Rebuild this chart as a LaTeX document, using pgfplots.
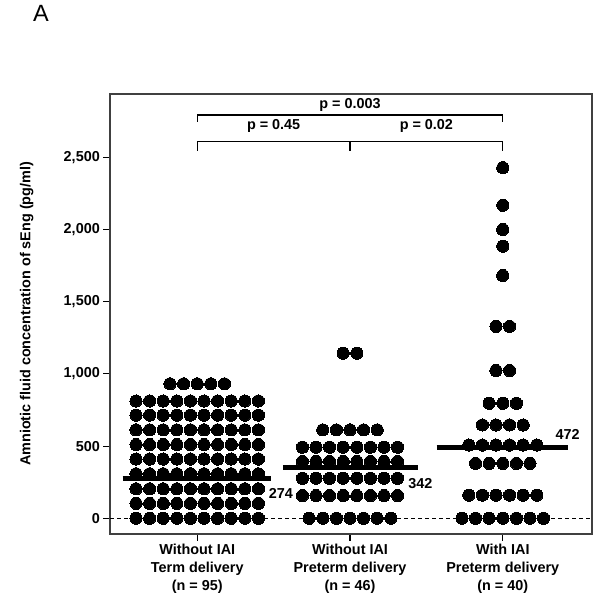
\documentclass[border=0pt]{standalone}
\usepackage{fontspec}
\setmainfont{Liberation Sans}
\setsansfont{Liberation Sans}
\usepackage{pgfplots}
\pgfplotsset{compat=1.18}
\newcommand{\lbl}{\fontsize{14.4bp}{18bp}\selectfont\bfseries}
\begin{document}
\begin{tikzpicture}
\path[use as bounding box] (0,0) rectangle (600bp,599bp);
\node[font=\fontsize{23.5bp}{28bp}\selectfont] at (41bp,585.5bp) {A};
\begin{axis}[
  at={(110bp,65bp)}, anchor=south west,
  width=482bp, height=440bp, scale only axis,
  xmin=0.429, xmax=3.584, ymin=-109, ymax=2938,
  clip=false,
  axis line style={black!75, line width=1.3bp},
  tick align=outside, major tick length=6.7bp,
  tick style={black, line width=1.1bp},
  xtick pos=bottom, ytick pos=left,
  xtick={1,2,3},
  xticklabels={{Without IAI\\Term delivery\\(n = 95)},{Without IAI\\Preterm delivery\\(n = 46)},{With IAI\\Preterm delivery\\(n = 40)}},
  xticklabel style={align=center, font=\lbl},
  ytick={0,500,1000,1500,2000,2500},
  scaled y ticks=false,
  yticklabel style={font=\lbl, /pgf/number format/.cd, 1000 sep={,}, assume math mode=true},
  ylabel={Amniotic fluid concentration of sEng (pg/ml)},
  ylabel style={font=\lbl, at={(axis description cs:-0.173,0.5)}, anchor=center},
  dots/.style={only marks, mark=*, mark size=6.1bp, mark options={fill=black, draw=black, line width=0pt}},
]
% zero reference line
\addplot[black, line width=0.9bp, dash pattern=on 4bp off 3bp] coordinates {(0.429,0) (3.584,0)};

% without IAI, term delivery (n = 95)
\addplot[dots] coordinates {
(0.5995,0) (0.6885,0) (0.7775,0) (0.8665,0) (0.9555,0) (1.0445,0) (1.1335,0) (1.2225,0) (1.3115,0) (1.4005,0)
(0.5995,103) (0.6885,103) (0.7775,103) (0.8665,103) (0.9555,103) (1.0445,103) (1.1335,103) (1.2225,103) (1.3115,103) (1.4005,103)
(0.5995,204) (0.6885,204) (0.7775,204) (0.8665,204) (0.9555,204) (1.0445,204) (1.1335,204) (1.2225,204) (1.3115,204) (1.4005,204)
(0.5995,308) (0.6885,308) (0.7775,308) (0.8665,308) (0.9555,308) (1.0445,308) (1.1335,308) (1.2225,308) (1.3115,308) (1.4005,308)
(0.5995,410) (0.6885,410) (0.7775,410) (0.8665,410) (0.9555,410) (1.0445,410) (1.1335,410) (1.2225,410) (1.3115,410) (1.4005,410)
(0.5995,510) (0.6885,510) (0.7775,510) (0.8665,510) (0.9555,510) (1.0445,510) (1.1335,510) (1.2225,510) (1.3115,510) (1.4005,510)
(0.5995,612) (0.6885,612) (0.7775,612) (0.8665,612) (0.9555,612) (1.0445,612) (1.1335,612) (1.2225,612) (1.3115,612) (1.4005,612)
(0.5995,714) (0.6885,714) (0.7775,714) (0.8665,714) (0.9555,714) (1.0445,714) (1.1335,714) (1.2225,714) (1.3115,714) (1.4005,714)
(0.5995,812) (0.6885,812) (0.7775,812) (0.8665,812) (0.9555,812) (1.0445,812) (1.1335,812) (1.2225,812) (1.3115,812) (1.4005,812)
(0.822,931) (0.911,931) (1,931) (1.089,931) (1.178,931)
};

% without IAI, preterm delivery (n = 46)
\addplot[dots] coordinates {
(1.733,0) (1.822,0) (1.911,0) (2,0) (2.089,0) (2.178,0) (2.267,0)
(1.6885,157) (1.7775,157) (1.8665,157) (1.9555,157) (2.0445,157) (2.1335,157) (2.2225,157) (2.3115,157)
(1.6885,277) (1.7775,277) (1.8665,277) (1.9555,277) (2.0445,277) (2.1335,277) (2.2225,277) (2.3115,277)
(1.6885,393) (1.7775,393) (1.8665,393) (1.9555,393) (2.0445,393) (2.1335,393) (2.2225,393) (2.3115,393)
(1.6885,492) (1.7775,492) (1.8665,492) (1.9555,492) (2.0445,492) (2.1335,492) (2.2225,492) (2.3115,492)
(1.822,612) (1.911,612) (2,612) (2.089,612) (2.178,612)
(1.9555,1143) (2.0445,1143)
};

% with IAI, preterm delivery (n = 40)
\addplot[dots] coordinates {
(2.733,0) (2.822,0) (2.911,0) (3,0) (3.089,0) (3.178,0) (3.267,0)
(2.7775,160) (2.8665,160) (2.9555,160) (3.0445,160) (3.1335,160) (3.2225,160)
(2.822,380) (2.911,380) (3,380) (3.089,380) (3.178,380)
(2.7775,507) (2.8665,507) (2.9555,507) (3.0445,507) (3.1335,507) (3.2225,507)
(2.8665,646) (2.9555,646) (3.0445,646) (3.1335,646)
(2.911,796) (3,796) (3.089,796)
(2.9555,1023) (3.0445,1023)
(2.9555,1329) (3.0445,1329)
(3,1681) (3,1884) (3,2000) (3,2167) (3,2428)
};

% medians
\addplot[black, line width=5bp] coordinates {(0.512,274) (1.481,274)};
\addplot[black, line width=5bp] coordinates {(1.561,351) (2.444,351)};
\addplot[black, line width=5bp] coordinates {(2.567,488) (3.428,488)};
\node[font=\lbl] at (axis cs:1.548,173) {274};
\node[font=\lbl] at (axis cs:2.461,242) {342};
\node[font=\lbl] at (axis cs:3.425,582) {472};

% significance brackets
\draw[black, line width=1.2bp] (axis cs:1,2747) -- (axis cs:1,2793) -- (axis cs:3,2793) -- (axis cs:3,2747);
\draw[black, line width=1.2bp] (axis cs:1,2544) -- (axis cs:1,2608) -- (axis cs:3,2608) -- (axis cs:3,2544);
\draw[black, line width=1.2bp] (axis cs:2,2608) -- (axis cs:2,2544);
\node[font=\lbl] at (axis cs:2,2862) {p = 0.003};
\node[font=\lbl] at (axis cs:1.5,2717) {p = 0.45};
\node[font=\lbl] at (axis cs:2.5,2717) {p = 0.02};
\end{axis}
\end{tikzpicture}
\end{document}
